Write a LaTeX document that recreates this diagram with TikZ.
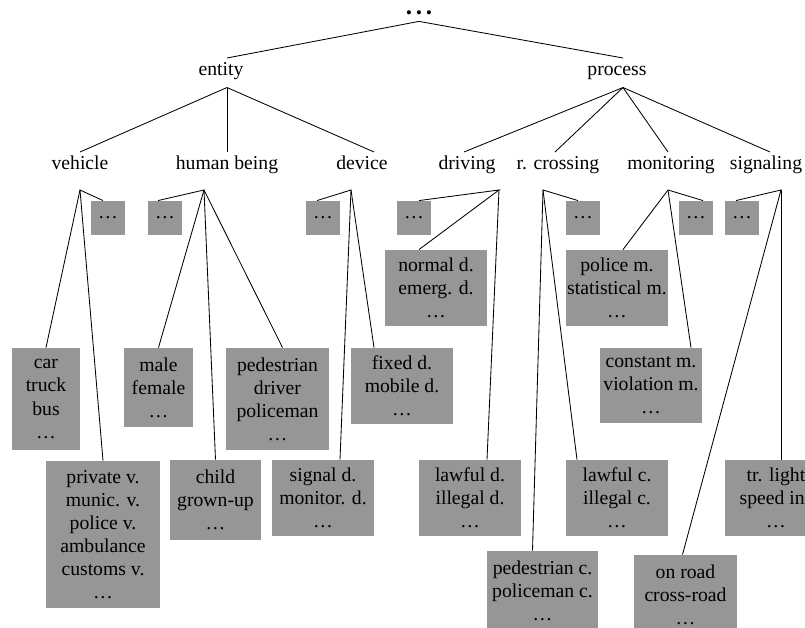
\documentclass[tikz,border=0pt]{standalone}
\usepackage{fontspec}
\setmainfont{Liberation Serif}
\usetikzlibrary{calc}

\definecolor{boxgray}{RGB}{150,150,150}
\def\px{0.025cm}

\tikzset{
  lbl/.style={anchor=base, inner xsep=1pt, inner ysep=5.7pt, text height=0.68em, text depth=0.22em},
  dotbox/.style={fill=boxgray, inner sep=0pt, minimum width=34*\px, minimum height=34*\px},
  box/.style 2 args={fill=boxgray, inner sep=0pt, align=center, minimum width=#1*\px, minimum height=#2*\px}
}

\begin{document}
\begin{tikzpicture}[x=\px, y=-\px, font=\fontsize{14}{16.4}\selectfont, line width=0.6pt]
            \useasboundingbox (0,0) rectangle (805,628);
            \clip (0,0) rectangle (805,628);

            % Raiz y primer nivel
            \node[anchor=base, inner sep=4pt, font=\fontsize{18}{18}\selectfont\bfseries] (top) at (419,15) {.\hspace{2.6pt}.\hspace{2.6pt}.};
            \node[lbl] (entity) at (221,76) {entity};
            \node[lbl] (process) at (617,76) {process};

            % Segundo nivel
            \node[lbl] (vehicle) at (80,170) {vehicle};
            \node[lbl] (human) at (227,170) {human being};
            \node[lbl] (device) at (362,170) {device};
            \node[lbl] (driving) at (467,170) {driving};
            \node[lbl] (crossing) at (558,170) {r. crossing};
            \node[lbl] (monitoring) at (671,170) {monitoring};
            \node[lbl] (signaling) at (766,170) {signaling};

            % Puntos de ramificacion
            \coordinate (vehB) at (80,190);
            \coordinate (humB) at (204,190);
            \coordinate (devB) at (351,190);
            \coordinate (drvB) at (499,190);
            \coordinate (crsB) at (543,190);
            \coordinate (monB) at (668,190);
            \coordinate (sigB) at (781,190);

            % Cajas con puntos suspensivos
            \node[dotbox] (vehE) at (108,218) {\ldots};
            \node[dotbox] (humE) at (165,218) {\ldots};
            \node[dotbox] (devE) at (323,218) {\ldots};
            \node[dotbox] (drvE) at (414,218) {\ldots};
            \node[dotbox] (crsE) at (583,218) {\ldots};
            \node[dotbox] (monE) at (696,218) {\ldots};
            \node[dotbox] (sigE) at (742,218) {\ldots};

            % Cajas de hojas
            \node[box={68}{102}] (car) at (46,399) {car\\truck\\bus\\\ldots};
            \node[box={114}{147}] (priv) at (103,534.5) {private v.\\munic. v.\\police v.\\ambulance\\customs v.\\\ldots};
            \node[box={69}{79}] (male) at (158.5,387.5) {male\\female\\\ldots};
            \node[box={103}{102}] (pedn) at (277.5,399) {pedestrian\\driver\\policeman\\\ldots};
            \node[box={91}{80}] (child) at (215.5,500) {child\\grown-up\\\ldots};
            \node[box={102}{76}] (sigd) at (323,498) {signal d.\\monitor. d.\\\ldots};
            \node[box={102}{76}] (fixd) at (402,386) {fixed d.\\mobile d.\\\ldots};
            \node[box={102}{76}] (norm) at (436,288) {normal d.\\emerg. d.\\\ldots};
            \node[box={102}{76}] (lawd) at (470,498) {lawful d.\\illegal d.\\\ldots};
            \node[box={111}{80}] (pedc) at (542.5,591) {pedestrian c.\\policeman c.\\\ldots};
            \node[box={102}{76}] (lawc) at (617,498) {lawful c.\\illegal c.\\\ldots};
            \node[box={102}{76}] (pol) at (617,288) {police m.\\statistical m.\\\ldots};
            \node[box={102}{75}] (const) at (651,385.5) {constant m.\\violation m.\\\ldots};
            \node[box={102}{76}] (trl) at (776,498) {tr. light\\speed ins\\\ldots};
            \node[box={103}{80}] (onrd) at (685.5,595) {on road\\cross-road\\\ldots};

            % Lineas de los dos primeros niveles
            \draw (top.south) -- ($(entity.north)+(6,0)$);
            \draw (top.south) -- ($(process.north)+(6,0)$);
            \draw ($(entity.south)+(6,0)$) -- (vehicle.north);
            \draw ($(entity.south)+(6,0)$) -- (human.north);
            \draw ($(entity.south)+(6,0)$) -- ($(device.north)+(12,0)$);
            \draw ($(process.south)+(6,0)$) -- ($(driving.north)+(-3,0)$);
            \draw ($(process.south)+(6,0)$) -- ($(crossing.north)+(-3,0)$);
            \draw ($(process.south)+(6,0)$) -- ($(monitoring.north)+(-3,0)$);
            \draw ($(process.south)+(6,0)$) -- ($(signaling.north)+(4,0)$);

            % Lineas hacia las cajas
            \draw ($(vehE.north)+(-5,0)$) -- (vehB) -- (car.north);
            \draw (vehB) -- (priv.north);
            \draw ($(humE.north)+(-7,0)$) -- (humB) -- (male.north);
            \draw (humB) -- (child.north);
            \draw (humB) -- ($(pedn.north)+(5,0)$);
            \draw ($(devE.north)+(-6,0)$) -- (devB) -- ($(fixd.north)+(-28,0)$);
            \draw (devB) -- ($(sigd.north)+(17,0)$);
            \draw ($(drvE.north)+(5,0)$) -- (drvB) -- ($(norm.north)+(-17,0)$);
            \draw (drvB) -- ($(lawd.north)+(17,0)$);
            \draw ($(crsE.north)+(-5,0)$) -- (crsB) -- ($(pedc.north)+(-10,0)$);
            \draw (crsB) -- ($(lawc.north)+(-40,0)$);
            \draw ($(monE.north)+(7,0)$) -- (monB) -- ($(pol.north)+(6,0)$);
            \draw (monB) -- ($(const.north)+(40,0)$);
            \draw ($(sigE.north)+(-6,0)$) -- (sigB) -- ($(onrd.north)+(-3,0)$);
            \draw (sigB) -- ($(trl.north)+(5,0)$);

\end{tikzpicture}
\end{document}
